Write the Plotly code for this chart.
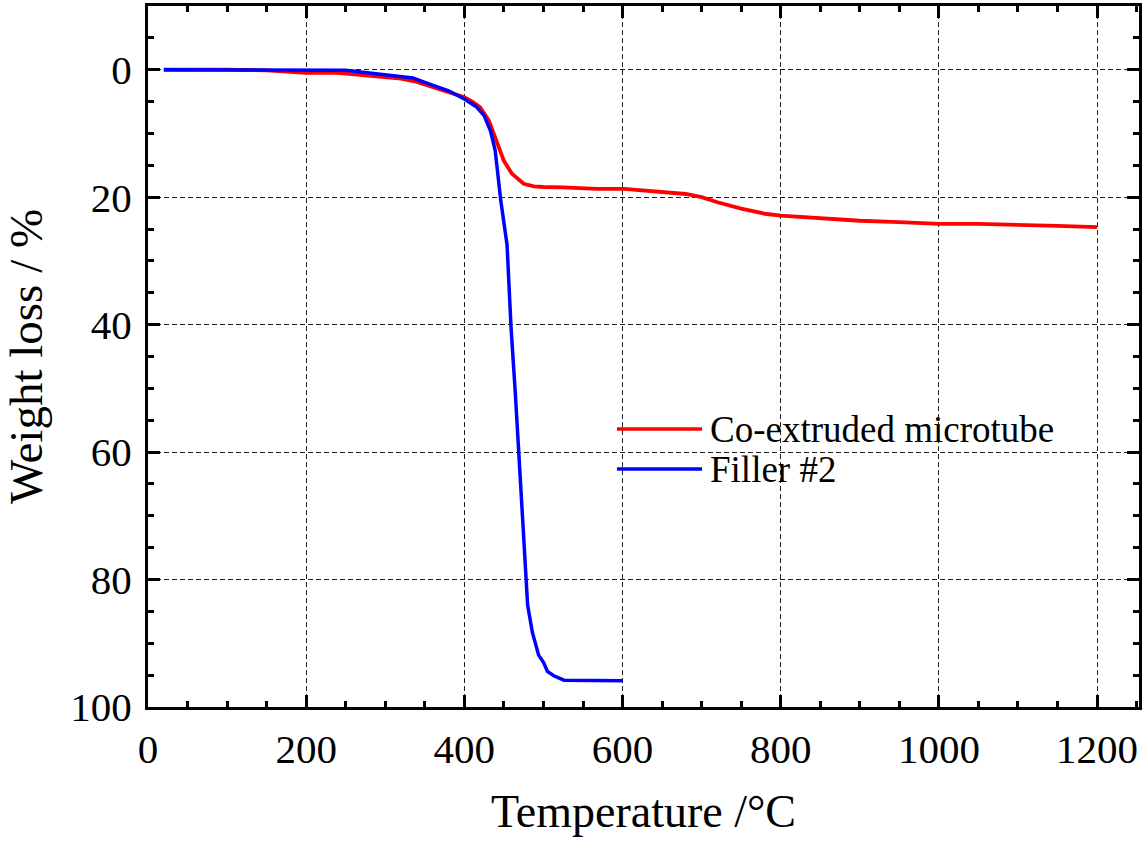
import plotly.graph_objects as go

# ---- data ----
temp_tube = [20, 50, 80, 100, 150, 200, 240, 280, 300, 320, 340, 360, 380, 400, 410, 420,
             431, 439, 450, 460, 475, 488, 500, 525, 568, 602, 623, 650, 680, 700, 720, 750,
             780, 800, 850, 900, 950, 1000, 1050, 1100, 1150, 1200]
loss_tube = [0, 0, -0.05, 0, 0.1, 0.5, 0.5, 0.9, 1.1, 1.4, 1.9, 2.7, 3.4, 4.3, 5.0, 5.9,
             8.0, 10.6, 14.3, 16.3, 17.9, 18.3, 18.4, 18.45, 18.7, 18.7, 18.9, 19.1, 19.5, 20.0, 20.8, 21.8,
             22.6, 22.9, 23.3, 23.7, 23.9, 24.2, 24.2, 24.3, 24.5, 24.7]

temp_filler = [20, 100, 150, 200, 250, 280, 300, 320, 335, 350, 365, 380, 400, 415, 425, 433,
               439, 446, 454, 457, 459, 464.5, 469, 473, 478.5, 480, 486, 494, 500, 505, 513, 526, 600]
loss_filler = [0, 0, 0, 0, 0.1, 0.5, 0.8, 1.1, 1.3, 2.0, 2.7, 3.3, 4.6, 5.8, 7.2, 9.6,
               12.7, 20.5, 27.5, 35.2, 40.4, 50.9, 60.3, 69.7, 80.2, 84, 88.3, 91.9, 93, 94.4, 95.1, 95.8, 95.9]

series_names = ["Co-extruded microtube", "Filler #2"]
series_colors = ["#FF0000", "#0000FF"]

x_ticks = [0, 200, 400, 600, 800, 1000, 1200]
y_ticks = [0, 20, 40, 60, 80, 100]

FONT = "Liberation Serif, Times New Roman, serif"

fig = go.Figure()
fig.add_trace(go.Scatter(x=temp_tube, y=loss_tube, mode="lines", name=series_names[0],
                         line=dict(color=series_colors[0], width=3.8), showlegend=False))
fig.add_trace(go.Scatter(x=temp_filler, y=loss_filler, mode="lines", name=series_names[1],
                         line=dict(color=series_colors[1], width=3.5), showlegend=False))

# plot-area geometry (pixels) used for the custom legend
L, R, T, B = 148, 1139, 6, 707
W, H = R - L, B - T
def px(x):
    return (x - L) / W
def py(y):
    return (B - y) / H

shapes = [
    dict(type="rect", xref="paper", yref="paper", x0=px(567), x1=px(1101), y0=py(502), y1=py(390),
         fillcolor="white", line=dict(width=0), layer="between"),
]
annotations = []
for i, (nm, col) in enumerate(zip(series_names, series_colors)):
    yc = 429 + 40 * i
    shapes.append(dict(type="line", xref="paper", yref="paper", x0=px(617), x1=px(702),
                       y0=py(yc), y1=py(yc), line=dict(color=col, width=3.5), layer="above"))
    annotations.append(dict(xref="paper", yref="paper", x=px(708), y=py(yc), text=nm,
                            showarrow=False, xanchor="left", yanchor="middle",
                            font=dict(family=FONT, size=37, color="black")))

axis_common = dict(
    showline=True, linecolor="black", linewidth=3, mirror="allticks",
    ticks="inside", ticklen=12, tickwidth=2.5, tickcolor="black",
    showgrid=True, gridcolor="#222222", gridwidth=1, griddash="5px,3px",
    zeroline=False,
    tickfont=dict(family=FONT, size=41, color="black"),
)

fig.update_xaxes(
    range=[0, 1253], tickvals=x_ticks, ticktext=[str(v) for v in x_ticks],
    minor=dict(dtick=50, tick0=0, ticks="inside", ticklen=6, tickwidth=2.5, tickcolor="black", showgrid=False),
    title=dict(text="Temperature /°C", font=dict(family=FONT, size=46, color="black"), standoff=24),
    ticklabelstandoff=4,
    **axis_common,
)
fig.update_yaxes(
    range=[100, -10], tickvals=y_ticks, ticktext=[str(v) for v in y_ticks],
    minor=dict(dtick=5, tick0=0, ticks="inside", ticklen=6, tickwidth=2.5, tickcolor="black", showgrid=False),
    title=dict(text="Weight loss / %", font=dict(family=FONT, size=47, color="black"), standoff=24),
    ticklabelstandoff=5,
    **axis_common,
)

fig.update_layout(
    width=1144, height=841,
    margin=dict(l=L, r=1144 - R, t=T, b=841 - B, autoexpand=False),
    paper_bgcolor="white", plot_bgcolor="white",
    shapes=shapes, annotations=annotations,
    showlegend=False,
)

fig.write_html("out.html", config={"displayModeBar": False},
               post_script="document.body.style.margin='0';document.body.style.overflow='hidden';")
